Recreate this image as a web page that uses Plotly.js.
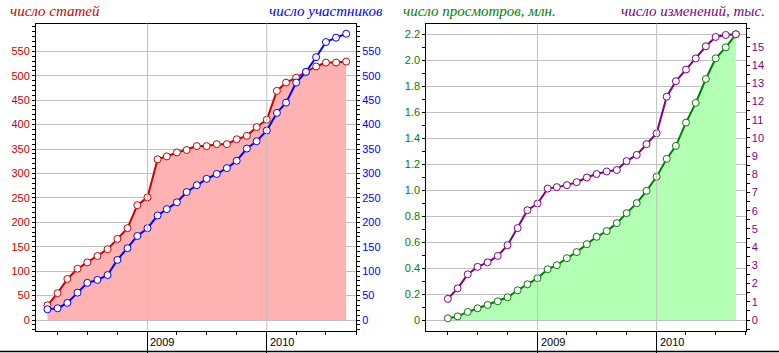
<!DOCTYPE html>
<html><head><meta charset="utf-8">
<script src="https://cdn.plot.ly/plotly-3.0.1.min.js"></script>
<style>html,body{margin:0;padding:0;background:#fff;}#chart{width:779px;height:353px;}</style>
</head><body><div id="chart"></div>
<script>
// ---- data ----
const monthsLeft = ['2008-03-01','2008-04-01','2008-05-01','2008-06-01','2008-07-01','2008-08-01','2008-09-01','2008-10-01','2008-11-01','2008-12-01',
  '2009-01-01','2009-02-01','2009-03-01','2009-04-01','2009-05-01','2009-06-01','2009-07-01','2009-08-01','2009-09-01','2009-10-01','2009-11-01','2009-12-01',
  '2010-01-01','2010-02-01','2010-03-01','2010-04-01','2010-05-01','2010-06-01','2010-07-01','2010-08-01','2010-09-01'];
const articles = [30,55,84,105,118,131,145,166,188,235,251,329,335,343,348,356,356,360,360,370,377,395,410,469,486,496,508,519,527,527,529];
const participants = [22,24,35,56,76,82,92,123,147,172,188,214,227,241,262,276,289,299,311,326,351,366,388,424,445,486,508,538,569,578,586];

const monthsRight = ['2008-04-01','2008-05-01','2008-06-01','2008-07-01','2008-08-01','2008-09-01','2008-10-01','2008-11-01','2008-12-01',
  '2009-01-01','2009-02-01','2009-03-01','2009-04-01','2009-05-01','2009-06-01','2009-07-01','2009-08-01','2009-09-01','2009-10-01','2009-11-01','2009-12-01',
  '2010-01-01','2010-02-01','2010-03-01','2010-04-01','2010-05-01','2010-06-01','2010-07-01','2010-08-01','2010-09-01'];
const viewsMln = [0.013,0.028,0.062,0.09,0.116,0.144,0.175,0.229,0.275,0.322,0.391,0.422,0.476,0.523,0.584,0.641,0.685,0.746,0.823,0.9,0.995,1.103,1.241,1.341,1.52,1.672,1.856,2.015,2.1,2.2];
const editsThousands = [1.16,1.74,2.51,2.92,3.17,3.52,4.11,5.05,6.03,6.4,7.22,7.3,7.41,7.57,7.83,8.02,8.16,8.24,8.73,9.07,9.66,10.26,12.27,13.12,13.76,14.37,15.04,15.55,15.66,15.7];

const yearTicks = ['2009-01-01','2010-01-01'];
const yearLabels = ['2009','2010'];
const countTicks = [0,50,100,150,200,250,300,350,400,450,500,550];
const viewTicks = [0,0.2,0.4,0.6,0.8,1.0,1.2,1.4,1.6,1.8,2.0,2.2];
const viewTickText = ['0','0.2','0.4','0.6','0.8','1.0','1.2','1.4','1.6','1.8','2.0','2.2'];
const editTicks = [0,1,2,3,4,5,6,7,8,9,10,11,12,13,14,15];
const titles = ['число статей','число участников','число просмотров, млн.','число изменений, тыс.'];

// ---- styles ----
const RED='#cc0000', BLUE='#0000ff', GREEN='#008000', PURPLE='#800080';
const TICKFONT = 'Liberation Sans, Arial, sans-serif';
const H=353, W=779;
const yDom=[(H-330.5)/H,(H-23.5)/H];
const xDomL=[36/W,356/W], xDomR=[426.33/W,745.67/W];
const xRange=['2008-01-26','2010-10-01'];

function series(x,y,xa,ya,color,fillc){
  const t={x:x,y:y,xaxis:xa,yaxis:ya,type:'scatter',mode:'lines+markers',
    line:{color:color,width:2},
    marker:{symbol:'circle',size:7,color:'#ffffff',line:{color:color,width:1}},
    hoverinfo:'skip'};
  if(fillc){t.fill='tozeroy';t.fillcolor=fillc;}
  return t;
}
const data=[
  series(monthsLeft,articles,'x','y',RED,'#ffb2b2'),
  series(monthsLeft,participants,'x','y2',BLUE,null),
  series(monthsRight,viewsMln,'x2','y3',GREEN,'#b3ffb3'),
  series(monthsRight,editsThousands,'x2','y4',PURPLE,null)
];

function xAxis(dom,anchor){
  return {domain:dom,anchor:anchor,type:'date',range:xRange,
    tickmode:'array',tickvals:yearTicks,showticklabels:false,
    ticks:'outside',ticklen:21,tickwidth:1,tickcolor:'#000',
    minor:{ticks:'outside',ticklen:3,tickcolor:'#000',dtick:'M3',tick0:'2008-01-01',showgrid:false},
    showgrid:false,zeroline:false,showline:true,linecolor:'#000',linewidth:1,mirror:true};
}
function yAxis(opts){
  return Object.assign({domain:yDom,ticks:'outside',ticklen:3,tickwidth:1,tickcolor:'#000',
    zeroline:false,showline:true,linecolor:'#000',linewidth:1,tickmode:'array'},opts);
}
const layout={
  width:W,height:H,margin:{l:0,r:0,t:0,b:0,pad:0},
  paper_bgcolor:'#fff',plot_bgcolor:'#fff',showlegend:false,
  xaxis:xAxis(xDomL,'y'),
  xaxis2:xAxis(xDomR,'y3'),
  yaxis:yAxis({anchor:'x',side:'left',range:[-21.5,607],tickvals:countTicks,
    showgrid:true,gridcolor:'#c0c0c0',gridwidth:1,
    minor:{ticks:'outside',ticklen:3,tickcolor:'#000',dtick:10,tick0:0,showgrid:false},
    tickfont:{family:TICKFONT,size:11,color:RED}}),
  yaxis2:yAxis({anchor:'x',overlaying:'y',side:'right',range:[-21.5,607],tickvals:countTicks,
    showgrid:false,
    minor:{ticks:'outside',ticklen:3,tickcolor:'#000',dtick:10,tick0:0,showgrid:false},
    tickfont:{family:TICKFONT,size:11,color:BLUE}}),
  yaxis3:yAxis({anchor:'x2',side:'left',range:[-0.0809,2.2834],tickvals:viewTicks,ticktext:viewTickText,
    showgrid:true,gridcolor:'#c0c0c0',gridwidth:1,
    minor:{ticks:'outside',ticklen:3,tickcolor:'#000',dtick:0.1,tick0:0,showgrid:false},
    tickfont:{family:TICKFONT,size:11,color:GREEN}}),
  yaxis4:yAxis({anchor:'x2',overlaying:'y3',side:'right',range:[-0.577,16.29],tickvals:editTicks,
    showgrid:false,
    minor:{ticks:'outside',ticklen:3,tickcolor:'#000',dtick:0.5,tick0:0,showgrid:false},
    tickfont:{family:TICKFONT,size:11,color:PURPLE}}),
  shapes:[],
  annotations:[]
};
// vertical year gridlines (over the fill) and bottom rule
[['x','y'],['x2','y3']].forEach(function(p){
  yearTicks.forEach(function(d,i){
    layout.shapes.push({type:'line',xref:p[0],yref:p[1]+' domain',x0:d,x1:d,y0:0,y1:1,
      line:{color:'#c0c0c0',width:1},layer:'above'});
    layout.annotations.push({xref:p[0],yref:'paper',x:d,y:(H-342)/H,xanchor:'left',yanchor:'middle',
      xshift:1,text:yearLabels[i],showarrow:false,font:{family:TICKFONT,size:11,color:'#000'}});
  });
});
layout.shapes.push({type:'line',xref:'paper',yref:'paper',x0:0,x1:1,y0:1.5/H,y1:1.5/H,line:{color:'#000',width:1.5}});

const TF='Liberation Serif, Times New Roman, serif';
const ty=(H-11.5)/H;
layout.annotations.push(
  {xref:'paper',yref:'paper',x:8/W,y:ty,xanchor:'left',yanchor:'middle',text:'<i>'+titles[0]+'</i>',showarrow:false,font:{family:TF,size:15,color:RED}},
  {xref:'paper',yref:'paper',x:385/W,y:ty,xanchor:'right',yanchor:'middle',text:'<i>'+titles[1]+'</i>',showarrow:false,font:{family:TF,size:15,color:BLUE}},
  {xref:'paper',yref:'paper',x:401/W,y:ty,xanchor:'left',yanchor:'middle',text:'<i>'+titles[2]+'</i>',showarrow:false,font:{family:TF,size:15,color:GREEN}},
  {xref:'paper',yref:'paper',x:767/W,y:ty,xanchor:'right',yanchor:'middle',text:'<i>'+titles[3]+'</i>',showarrow:false,font:{family:TF,size:15,color:PURPLE}}
);
Plotly.newPlot('chart',data,layout,{staticPlot:true,displayModeBar:false});
</script>
</body></html>
